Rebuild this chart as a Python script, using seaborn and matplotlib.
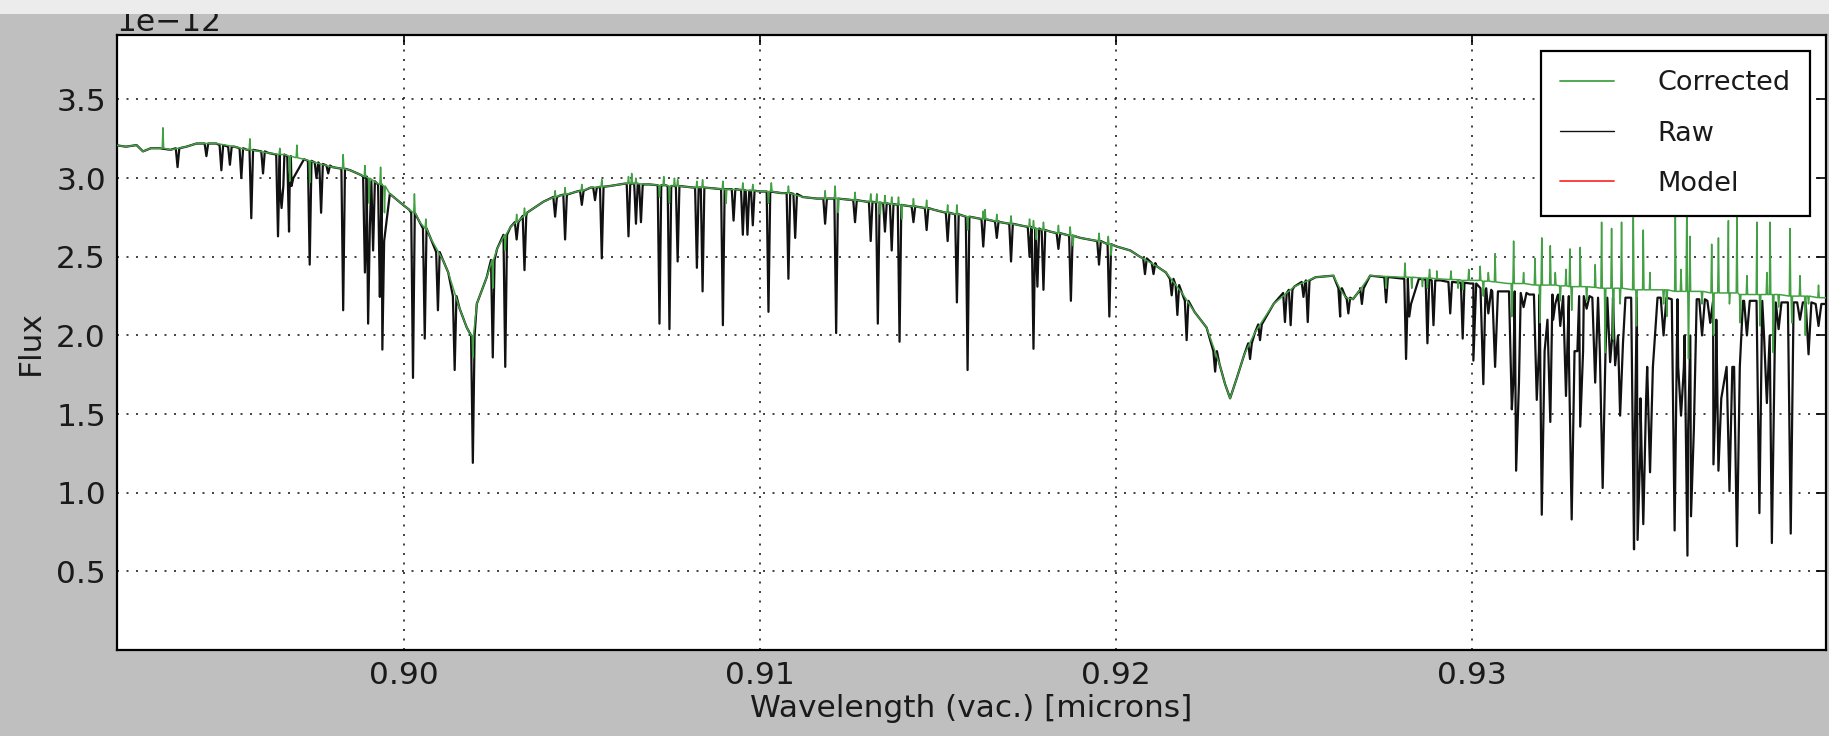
import numpy as np
import pandas as pd
import matplotlib
matplotlib.use("Agg")
import matplotlib.pyplot as plt
import seaborn as sns
from matplotlib.lines import Line2D
from matplotlib.patches import Rectangle
from matplotlib.ticker import FormatStrFormatter

# ---------------- data (flux in units of 1e-12) ----------------
SCALE = 1e-12

# Raw spectrum: continuum / broad-feature anchor points
raw_cont_wl = [0.89190, 0.89220, 0.89250, 0.89268, 0.89290, 0.89315, 0.89345, 0.89390, 0.89418, 0.89474,
               0.89525, 0.89560, 0.89620, 0.89665, 0.89720, 0.89750, 0.89800, 0.89850, 0.89880, 0.89923,
               0.89961, 0.89998, 0.90015, 0.90045, 0.90075, 0.90110, 0.90125, 0.90157, 0.90177, 0.90189,
               0.90205, 0.90233, 0.90262, 0.90300, 0.90346, 0.90392, 0.90439, 0.90486, 0.90525, 0.90579,
               0.90620, 0.90690, 0.90735, 0.90813, 0.90870, 0.90907, 0.91001, 0.91060, 0.91120, 0.91160,
               0.91240, 0.91300, 0.91410, 0.91487, 0.91600, 0.91675, 0.91730, 0.91815, 0.91900, 0.92002,
               0.92040, 0.92067, 0.92114, 0.92140, 0.92185, 0.92220, 0.92254, 0.92290, 0.92306, 0.92320,
               0.92339, 0.92360, 0.92390, 0.92442, 0.92500, 0.92560, 0.92610, 0.92630, 0.92645, 0.92665,
               0.92685, 0.92713, 0.92769, 0.92850, 0.92910, 0.93003, 0.93090, 0.93160, 0.93300, 0.93430,
               0.93520, 0.93630, 0.93760, 0.93880, 0.93995]
raw_cont_flux = [3.21, 3.20, 3.21, 3.17, 3.19, 3.19, 3.18, 3.20, 3.22, 3.22,
                 3.20, 3.18, 3.16, 3.15, 3.12, 3.10, 3.07, 3.05, 3.02, 2.97,
                 2.90, 2.83, 2.80, 2.72, 2.62, 2.48, 2.40, 2.17, 2.05, 2.00,
                 2.20, 2.37, 2.55, 2.69, 2.78, 2.85, 2.89, 2.915, 2.94, 2.95,
                 2.965, 2.96, 2.955, 2.94, 2.935, 2.93, 2.915, 2.905, 2.88, 2.87,
                 2.865, 2.85, 2.825, 2.80, 2.75, 2.72, 2.70, 2.66, 2.62, 2.565,
                 2.54, 2.50, 2.44, 2.40, 2.27, 2.15, 2.05, 1.82, 1.69, 1.60,
                 1.73, 1.88, 2.02, 2.20, 2.31, 2.37, 2.38, 2.29, 2.24, 2.23,
                 2.29, 2.38, 2.37, 2.36, 2.35, 2.33, 2.28, 2.26, 2.25, 2.24,
                 2.24, 2.23, 2.22, 2.21, 2.20]

# Raw spectrum: narrow absorption lines (centre, shoulder level, minimum)
raw_line_wl = [0.89365, 0.89446, 0.89488, 0.89512, 0.89544, 0.89572, 0.89605, 0.89647, 0.89657, 0.89678,
               0.89685, 0.89736, 0.89755, 0.89768, 0.89788, 0.89830, 0.89891, 0.89900, 0.89914, 0.89933,
               0.89940, 0.90026, 0.90059, 0.90096, 0.90143,
               0.90194, 0.90250, 0.90285, 0.90317, 0.90339, 0.90425, 0.90453, 0.90500, 0.90537, 0.90556,
               0.90631, 0.90652, 0.90666, 0.90718, 0.90746, 0.90769, 0.90823, 0.90839, 0.90896, 0.90926,
               0.90952, 0.90965, 0.90980, 0.91024, 0.91080, 0.91099,
               0.91183, 0.91214, 0.91267, 0.91311, 0.91331, 0.91351, 0.91370, 0.91392, 0.91431, 0.91468,
               0.91527, 0.91553, 0.91583, 0.91627, 0.91665, 0.91705, 0.91757, 0.91768, 0.91779, 0.91796,
               0.91838, 0.91873, 0.91952, 0.91981,
               0.92081, 0.92105, 0.92156, 0.92172, 0.92198, 0.92278, 0.92376, 0.92404, 0.92474, 0.92490,
               0.92526, 0.92538, 0.92629, 0.92652, 0.92690, 0.92758, 0.92814, 0.92823, 0.92874, 0.92891,
               0.92938, 0.92973, 0.93003,
               0.93031, 0.93045, 0.93064, 0.93111, 0.93123, 0.93144, 0.93181, 0.93195, 0.93219, 0.93233,
               0.93247, 0.93263, 0.93279, 0.93303, 0.93321, 0.93345, 0.93366, 0.93387, 0.93401, 0.93415,
               0.93454, 0.93464, 0.93480, 0.93499, 0.93537, 0.93568, 0.93586, 0.93604, 0.93614, 0.93645,
               0.93668, 0.93677, 0.93691, 0.93722, 0.93743, 0.93771, 0.93806, 0.93827, 0.93841, 0.93860,
               0.93894, 0.93920, 0.93944, 0.93972]
raw_line_top = [3.19, 3.22, 3.21, 3.20, 3.19, 3.18, 3.17, 3.15, 2.95, 3.14,
                3.00, 3.11, 3.10, 3.09, 3.08, 3.06, 3.01, 2.70, 2.98, 2.96,
                2.60, 2.78, 2.68, 2.53, 2.25,
                2.00, 2.48, 2.64, 2.72, 2.76, 2.88, 2.895, 2.92, 2.94, 2.945,
                2.965, 2.965, 2.96, 2.955, 2.95, 2.95, 2.94, 2.94, 2.93, 2.93,
                2.925, 2.92, 2.92, 2.915, 2.905, 2.90,
                2.87, 2.87, 2.86, 2.85, 2.845, 2.84, 2.835, 2.83, 2.82, 2.81,
                2.78, 2.77, 2.755, 2.74, 2.725, 2.71, 2.69, 2.68, 2.68, 2.67,
                2.65, 2.635, 2.60, 2.58,
                2.49, 2.46, 2.36, 2.32, 2.22, 1.90, 1.95, 2.07, 2.27, 2.29,
                2.34, 2.35, 2.30, 2.24, 2.30, 2.37, 2.36, 2.20, 2.355, 2.35,
                2.34, 2.335, 2.33,
                2.30, 2.29, 2.28, 2.28, 1.70, 2.27, 2.26, 1.90, 2.10, 2.26,
                2.25, 2.25, 1.90, 1.90, 2.25, 2.24, 1.90, 2.24, 2.00, 1.95,
                2.24, 1.30, 1.60, 1.80, 2.24, 2.23, 1.80, 2.00, 1.40, 2.23,
                2.22, 2.10, 1.60, 1.80, 1.80, 2.22, 2.22, 2.00, 1.90, 2.21,
                2.21, 2.21, 2.21, 2.20]
raw_line_min = [3.07, 3.14, 3.05, 3.085, 3.00, 2.745, 3.03, 2.63, 2.81, 2.66,
                2.95, 2.45, 3.00, 2.78, 3.03, 2.16, 2.40, 2.075, 2.54, 2.245,
                1.91, 1.73, 1.98, 2.16, 1.78,
                1.19, 1.86, 1.80, 2.61, 2.415, 2.755, 2.61, 2.83, 2.86, 2.49,
                2.63, 2.71, 2.72, 2.075, 2.04, 2.47, 2.43, 2.28, 2.065, 2.73,
                2.64, 2.64, 2.70, 2.15, 2.36, 2.62,
                2.71, 2.015, 2.72, 2.60, 2.075, 2.66, 2.54, 1.96, 2.72, 2.67,
                2.60, 2.21, 1.78, 2.565, 2.62, 2.47, 2.50, 1.915, 2.31, 2.29,
                2.55, 2.22, 2.45, 2.12,
                2.39, 2.39, 2.255, 2.13, 1.97, 1.77, 1.85, 1.97, 2.085, 2.065,
                2.245, 2.085, 2.12, 2.14, 2.20, 2.21, 1.85, 2.12, 1.95, 2.065,
                2.14, 1.98, 1.84,
                1.69, 2.14, 1.80, 1.53, 1.14, 2.18, 1.59, 0.86, 1.45, 2.20,
                2.06, 1.615, 0.83, 1.42, 2.17, 1.70, 1.03, 1.83, 1.81, 1.49,
                0.64, 0.70, 0.80, 1.13, 2.00, 0.76, 1.49, 0.60, 0.85, 2.00,
                2.08, 1.18, 1.14, 1.01, 0.66, 2.00, 0.87, 1.57, 0.68, 2.04,
                0.74, 2.10, 1.88, 2.06]

# Corrected spectrum: baseline on the red side (blue side follows the raw continuum)
cor_cont_wl = [0.92713, 0.92800, 0.92900, 0.93000, 0.93100, 0.93200, 0.93300, 0.93400, 0.93500, 0.93600,
               0.93700, 0.93800, 0.93900, 0.93995]
cor_cont_flux = [2.38, 2.37, 2.36, 2.35, 2.33, 2.32, 2.31, 2.30, 2.29, 2.28,
                 2.27, 2.26, 2.25, 2.24]

# Corrected spectrum: residual spikes (centre, base level, extreme value)
cor_spike_wl = [0.89324, 0.89568, 0.89652, 0.89680, 0.89700, 0.89736, 0.89830, 0.89891, 0.89903, 0.89935,
                0.89946, 0.90030, 0.90062, 0.90194, 0.90250, 0.90285,
                0.90317, 0.90339, 0.90425, 0.90453, 0.90500, 0.90556, 0.90631, 0.90652,
                0.90640, 0.90718, 0.90730, 0.90746, 0.90760, 0.90769, 0.90823, 0.90839, 0.90896, 0.90905,
                0.90952, 0.90980, 0.91024, 0.91032, 0.91080, 0.91183, 0.91211,
                0.91220, 0.91267, 0.91311, 0.91328, 0.91338, 0.91351, 0.91370, 0.91389, 0.91398, 0.91431,
                0.91468, 0.91527, 0.91553, 0.91583, 0.91627, 0.91632, 0.91665, 0.91705, 0.91757, 0.91768,
                0.91776, 0.91796, 0.91838, 0.91871, 0.91879, 0.91952, 0.91978, 0.91986,
                0.92758, 0.92811, 0.92830, 0.92860, 0.92874, 0.92880, 0.92900, 0.92940, 0.92960, 0.92973,
                0.92990, 0.93022, 0.93031, 0.93045, 0.93064,
                0.93111, 0.93116, 0.93144, 0.93176, 0.93190, 0.93195, 0.93219, 0.93233, 0.93247, 0.93263,
                0.93274, 0.93279, 0.93303, 0.93321, 0.93345, 0.93363, 0.93373, 0.93391, 0.93396, 0.93415,
                0.93419, 0.93452, 0.93461, 0.93480, 0.93499, 0.93537, 0.93546, 0.93570, 0.93586, 0.93602,
                0.93607, 0.93611, 0.93645, 0.93672, 0.93677, 0.93691, 0.93719, 0.93722, 0.93743, 0.93752,
                0.93771, 0.93799, 0.93808, 0.93827, 0.93836, 0.93845, 0.93860, 0.93892, 0.93897, 0.93920,
                0.93935, 0.93944, 0.93972]
cor_spike_base = [3.19, 3.18, 3.15, 3.14, 3.13, 3.11, 3.06, 3.01, 3.00, 2.96,
                  2.95, 2.78, 2.68, 2.00, 2.48, 2.64,
                  2.72, 2.76, 2.88, 2.895, 2.92, 2.945, 2.965, 2.965,
                  2.965, 2.955, 2.955, 2.95, 2.95, 2.95, 2.94, 2.94, 2.93, 2.93,
                  2.925, 2.92, 2.915, 2.915, 2.905, 2.87, 2.87,
                  2.87, 2.86, 2.85, 2.845, 2.845, 2.84, 2.835, 2.83, 2.83, 2.82,
                  2.81, 2.78, 2.77, 2.755, 2.74, 2.74, 2.725, 2.71, 2.69, 2.68,
                  2.68, 2.67, 2.65, 2.635, 2.635, 2.60, 2.58, 2.58,
                  2.375, 2.37, 2.37, 2.365, 2.365, 2.365, 2.36, 2.355, 2.355, 2.35,
                  2.35, 2.35, 2.345, 2.345, 2.34,
                  2.33, 2.33, 2.33, 2.32, 2.32, 2.32, 2.32, 2.32, 2.315, 2.315,
                  2.31, 2.31, 2.31, 2.31, 2.305, 2.30, 2.30, 2.30, 2.30, 2.30,
                  2.30, 2.29, 2.29, 2.29, 2.29, 2.29, 2.29, 2.28, 2.28, 2.28,
                  2.28, 2.28, 2.28, 2.27, 2.27, 2.27, 2.27, 2.27, 2.27, 2.26,
                  2.26, 2.26, 2.26, 2.26, 2.26, 2.26, 2.26, 2.25, 2.25, 2.25,
                  2.25, 2.25, 2.24]
cor_spike_val = [3.32, 3.25, 3.19, 2.98, 3.21, 2.97, 3.15, 3.08, 2.84, 3.07,
                 2.78, 2.90, 2.74, 1.86, 2.30, 2.54,
                 2.77, 2.81, 2.92, 2.94, 2.96, 2.99, 3.01, 3.00,
                 3.03, 2.88, 3.01, 2.84, 3.00, 2.99, 2.98, 2.99, 2.98, 2.84,
                 2.97, 2.96, 2.84, 2.97, 2.95, 2.92, 2.95,
                 2.78, 2.91, 2.90, 2.90, 2.77, 2.89, 2.88, 2.88, 2.74, 2.87,
                 2.86, 2.83, 2.83, 2.67, 2.79, 2.80, 2.77, 2.76, 2.74, 2.73,
                 2.61, 2.72, 2.70, 2.69, 2.57, 2.65, 2.63, 2.51,
                 2.30, 2.46, 2.30, 2.31, 2.30, 2.42, 2.41, 2.41, 2.30, 2.29,
                 2.42, 2.44, 2.25, 2.40, 2.52,
                 2.12, 2.60, 2.40, 2.49, 2.08, 2.62, 2.57, 2.40, 2.22, 2.42,
                 2.55, 2.16, 2.56, 2.22, 2.45, 2.72, 1.89, 2.68, 1.975, 2.20,
                 2.72, 2.75, 2.06, 2.67, 2.40, 2.20, 2.12, 2.77, 2.42, 2.76,
                 1.85, 2.63, 2.20, 2.58, 2.00, 2.62, 2.73, 2.20, 2.75, 2.08,
                 2.38, 2.72, 2.06, 2.40, 2.72, 1.89, 2.18, 2.68, 2.08, 2.38,
                 2.00, 2.20, 2.32]

# Model (not visible in the plotted range, legend entry only)
model_wl = []
model_flux = []

series_labels = ["Corrected", "Raw", "Model"]
x_ticks = [0.90, 0.91, 0.92, 0.93]
y_ticks = [0.5, 1.0, 1.5, 2.0, 2.5, 3.0, 3.5]

# ---------------- build polylines ----------------
RAW_HW_BLUE = 0.00005   # half-width of a drawn absorption line (styling)
RAW_HW_RED = 0.00008
RED_EDGE = 0.9300
COR_HW = 0.00002


def build(cont_wl, cont_flux, f_wl, f_base, f_val, hw_blue, hw_red):
    pts = list(zip(cont_wl, cont_flux))
    for c, b, v in zip(f_wl, f_base, f_val):
        hw = hw_red if c > RED_EDGE else hw_blue
        pts += [(c - hw, b), (c, v), (c + hw, b)]
    pts.sort(key=lambda p: p[0])
    df = pd.DataFrame(pts, columns=["wl", "flux"])
    df["flux"] = df["flux"] * SCALE
    return df


raw_df = build(raw_cont_wl, raw_cont_flux, raw_line_wl, raw_line_top, raw_line_min,
               RAW_HW_BLUE, RAW_HW_RED)
cor_base_wl = [w for w in raw_cont_wl if w < 0.9270] + cor_cont_wl
cor_base_fl = [f for w, f in zip(raw_cont_wl, raw_cont_flux) if w < 0.9270] + cor_cont_flux
cor_df = build(cor_base_wl, cor_base_fl, cor_spike_wl, cor_spike_base, cor_spike_val, COR_HW, COR_HW)
model_df = pd.DataFrame({"wl": model_wl, "flux": model_flux})

# ---------------- figure ----------------
sns.set_theme(style="white")
plt.rcParams["font.family"] = ["DejaVu Sans"]

BG = "#bfbfbf"
C_COR = "#44a044"
C_RAW = "#111111"
C_MOD = "#ff3333"
TXT = "#1a1a1a"
FS = 22.5

fig = plt.figure(figsize=(18.29, 7.36), dpi=100, facecolor=BG)
ax = fig.add_axes([117 / 1829, 86 / 736, 1709 / 1829, 615 / 736])
ax.set_facecolor("white")

sns.lineplot(data=raw_df, x="wl", y="flux", estimator=None, sort=False, ax=ax,
             color=C_RAW, lw=1.6, zorder=3)
sns.lineplot(data=cor_df, x="wl", y="flux", estimator=None, sort=False, ax=ax,
             color=C_COR, lw=1.1, zorder=4)
if len(model_df):
    sns.lineplot(data=model_df, x="wl", y="flux", estimator=None, ax=ax, color=C_MOD, lw=1.0, zorder=5)

ax.set_xlim(0.89195, 0.93993)
ax.set_ylim(0, 3.91 * SCALE)
ax.set_xticks(x_ticks)
ax.set_yticks([v * SCALE for v in y_ticks])
ax.xaxis.set_major_formatter(FormatStrFormatter("%.2f"))

ax.grid(True, color="#222222", linestyle=(0, (1.2, 4.5)), lw=1.2, zorder=1)
ax.set_axisbelow(True)
for s in ax.spines.values():
    s.set_color("black")
    s.set_linewidth(1.6)
    s.set_visible(True)

ax.tick_params(direction="in", length=7, width=1.2, top=True, right=True,
               labelsize=FS, pad=8, colors="black", labelcolor=TXT)
ax.yaxis.get_offset_text().set_fontsize(FS)
ax.yaxis.get_offset_text().set_color(TXT)

ax.set_xlabel("Wavelength (vac.) [microns]", fontsize=FS, color=TXT, labelpad=3)
ax.set_ylabel("Flux", fontsize=FS, color=TXT, labelpad=8)

handles = [Line2D([], [], color=C_COR, lw=1.3),
           Line2D([], [], color=C_RAW, lw=1.0),
           Line2D([], [], color=C_MOD, lw=1.3)]
leg = ax.legend(handles, series_labels, loc="upper right", fontsize=19.5,
                frameon=True, fancybox=False, shadow=False, framealpha=1,
                handlelength=2.0, handletextpad=1.6, labelspacing=0.9,
                borderpad=0.7, borderaxespad=0.6)
leg.get_frame().set_edgecolor("black")
leg.get_frame().set_linewidth(1.6)
leg.set_zorder(10)
for t in leg.get_texts():
    t.set_color(TXT)

# window title bar strip at the very top (covers part of the offset text)
fig.patches.append(Rectangle((0, 1 - 14 / 736), 1, 14 / 736, transform=fig.transFigure,
                             facecolor="#ececec", edgecolor="none", zorder=100))

fig.savefig("out.png", dpi=100, facecolor=BG)
